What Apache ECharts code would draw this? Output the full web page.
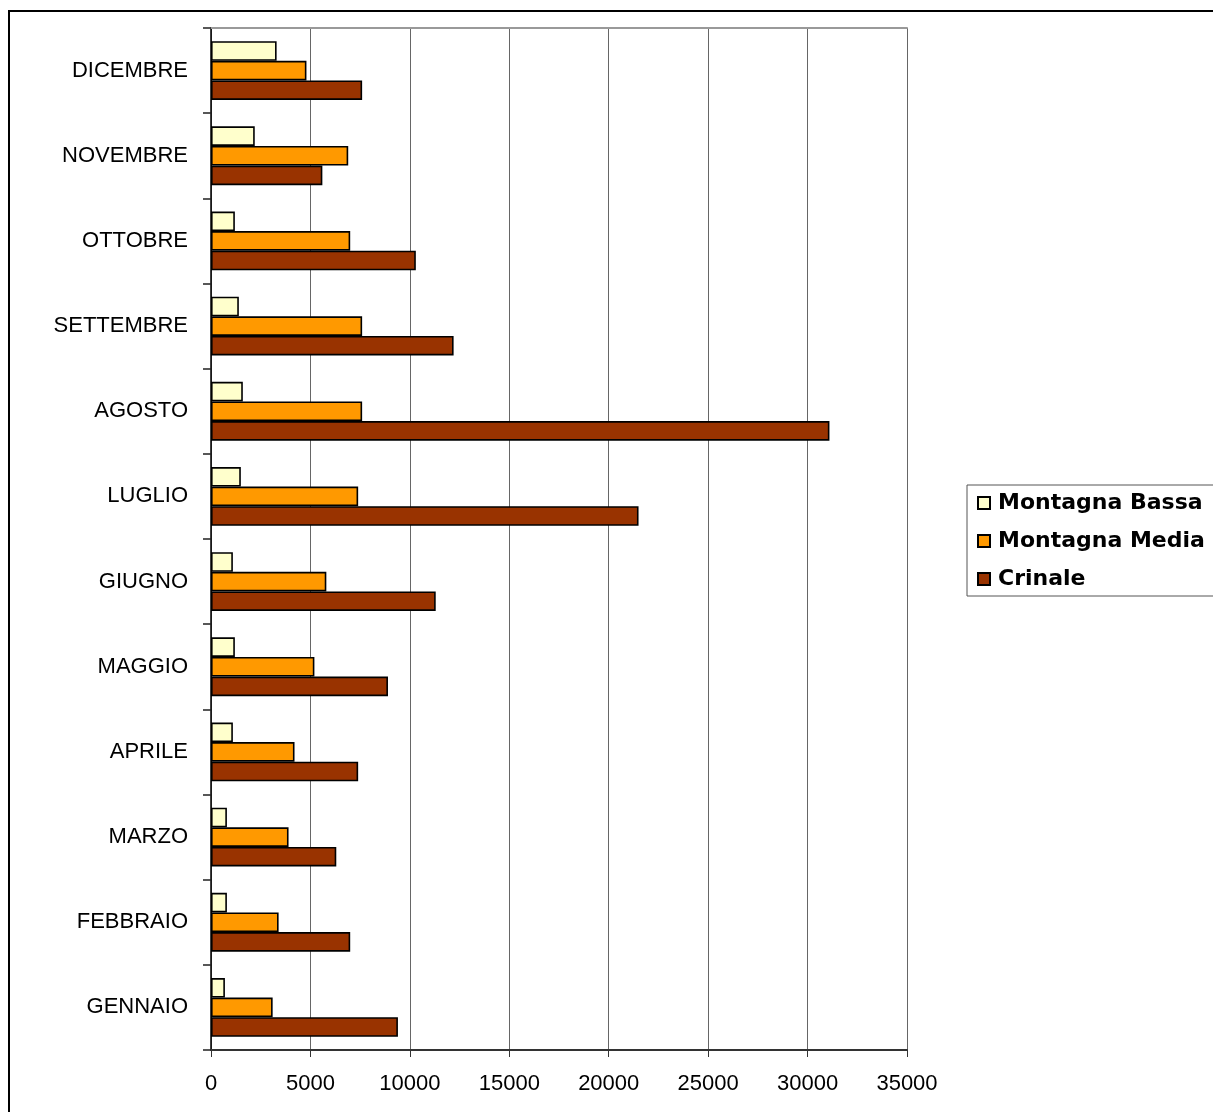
<!DOCTYPE html>
<html>
<head>
<meta charset="utf-8">
<script src="https://cdn.jsdelivr.net/npm/echarts@6/dist/echarts.min.js"></script>
<style>
html,body{margin:0;padding:0;background:#fff;}
#chart{width:1213px;height:1112px;}
</style>
</head>
<body>
<div id="chart"></div>
<script>
const months = ['GENNAIO','FEBBRAIO','MARZO','APRILE','MAGGIO','GIUGNO','LUGLIO','AGOSTO','SETTEMBRE','OTTOBRE','NOVEMBRE','DICEMBRE'];
const montagnaBassa = [700, 800, 800, 1100, 1200, 1100, 1500, 1600, 1400, 1200, 2200, 3300];
const montagnaMedia = [3100, 3400, 3900, 4200, 5200, 5800, 7400, 7600, 7600, 7000, 6900, 4800];
const crinale = [9400, 7000, 6300, 7400, 8900, 11300, 21500, 31100, 12200, 10300, 5600, 7600];
const xTicks = [0, 5000, 10000, 15000, 20000, 25000, 30000, 35000];

const font = '"Liberation Sans", Arial, sans-serif';
const chart = echarts.init(document.getElementById('chart'));
const barStyle = (c) => ({ color: c, borderColor: '#000', borderWidth: 1.6 });

chart.setOption({
  animation: false,
  backgroundColor: '#fff',
  graphic: [{
    type: 'rect', z: 0,
    shape: { x: 9, y: 11, width: 1260, height: 1160 },
    style: { fill: 'none', stroke: '#000', lineWidth: 2 }
  }],
  legend: {
    orient: 'vertical',
    left: 967, top: 485,
    data: ['Montagna Bassa', 'Montagna Media', 'Crinale'],
    borderColor: '#555', borderWidth: 1,
    padding: [7, 10, 6, 10],
    itemWidth: 12, itemHeight: 12, itemGap: 16,
    icon: 'rect',
    textStyle: { fontFamily: '"DejaVu Sans", sans-serif', fontWeight: 'bold', fontSize: 22, lineHeight: 22, color: '#000', padding: [0, 0, 0, 3] }
  },
  grid: { left: 211, right: 306, top: 28, bottom: 62, containLabel: false },
  xAxis: [{
    type: 'value',
    min: xTicks[0], max: xTicks[xTicks.length - 1], interval: 5000,
    axisLine: { show: true, lineStyle: { color: '#333', width: 2 } },
    axisTick: { show: true, length: 7, lineStyle: { color: '#333' } },
    axisLabel: { fontFamily: font, fontSize: 22, color: '#000', margin: 23, formatter: (v) => String(v) },
    splitLine: { show: true, lineStyle: { color: '#666', width: 1 } }
  }, {
    type: 'value', position: 'top',
    min: xTicks[0], max: xTicks[xTicks.length - 1], interval: 5000,
    axisLine: { show: true, lineStyle: { color: '#999', width: 2 } },
    axisTick: { show: false }, axisLabel: { show: false }, splitLine: { show: false }
  }],
  yAxis: {
    type: 'category',
    data: months,
    axisLine: { show: true, lineStyle: { color: '#000', width: 1.5 } },
    axisTick: { show: true, length: 8, lineStyle: { color: '#222', width: 1.5 } },
    axisLabel: { fontFamily: font, fontSize: 22, color: '#000', margin: 23 },
    splitLine: { show: false }
  },
  series: [
    { name: 'Montagna Bassa', type: 'bar', data: montagnaBassa, barGap: '0%', barCategoryGap: '31%', itemStyle: barStyle('#FFFFCC') },
    { name: 'Montagna Media', type: 'bar', data: montagnaMedia, barGap: '0%', barCategoryGap: '31%', itemStyle: barStyle('#FF9900') },
    { name: 'Crinale', type: 'bar', data: crinale, barGap: '0%', barCategoryGap: '31%', itemStyle: barStyle('#993300') }
  ]
});
</script>
</body>
</html>
